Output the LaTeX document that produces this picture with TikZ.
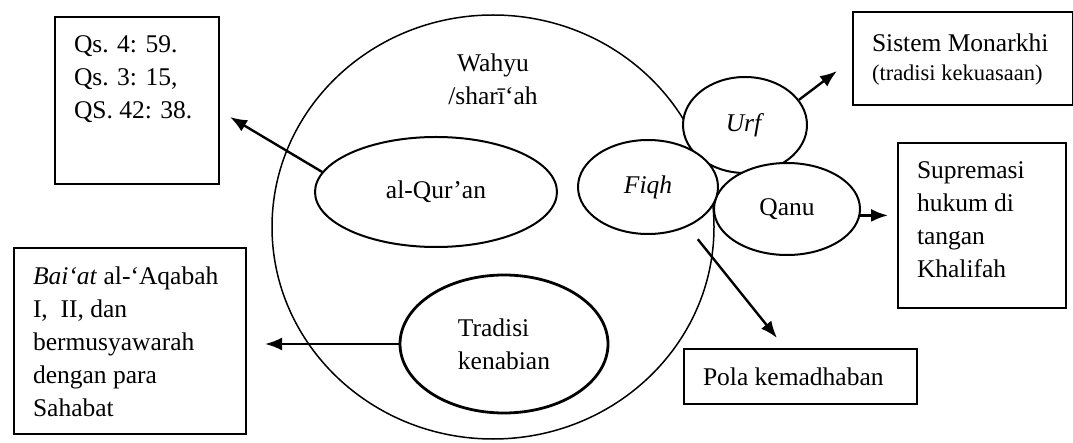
\documentclass[tikz,border=0pt]{standalone}
\usepackage{fontspec}
\setmainfont{Liberation Serif}
\usetikzlibrary{shapes.geometric,arrows.meta}

\newcommand{\bxtext}[3]{\parbox[c][#2][t]{#1}{\raggedright #3}}

\tikzset{
  txt/.style={font=\fontsize{25.5}{33}\selectfont},
  oval/.style={ellipse, draw, line width=2pt, inner sep=0pt, txt},
  refbox/.style={draw, line width=2pt, inner sep=19pt, anchor=north west, txt},
  arr/.style={line width=2.4pt, -{Latex[length=17pt,width=13pt]}},
}

\begin{document}
\begin{tikzpicture}[x=1pt,y=-1pt]
    \useasboundingbox (0,0) rectangle (1073,443);

    % wahyu circle
    \node[ellipse, draw, line width=1.5pt, minimum width=442pt, minimum height=424pt] (wahyu) at (493,227) {};
    \node[txt, align=center] (wahyutxt) at (493,79) {Wahyu\\/sharī‘ah};

    \node[oval, minimum width=242pt, minimum height=110pt] (quran) at (436,192) {al-Qur’an};
    \node[oval, line width=2.8pt, minimum width=208pt, minimum height=138pt, align=left] (tradisi) at (504,344) {Tradisi\\kenabian};

    \node[oval, fill=white, minimum width=124pt, minimum height=96pt] (urf) at (745,125) {\textit{Urf}};
    \node[oval, fill=white, minimum width=146pt, minimum height=92pt] (qanu) at (787,209) {Qanu};
    \node[oval, fill=white, minimum width=140pt, minimum height=94pt] (fiqh) at (648,187) {\textit{Fiqh}};

    % boxes
    \node[refbox] (qs) at (54,16) {\bxtext{126pt}{129pt}{Qs. 4: 59.\\Qs. 3: 15,\\QS. 42: 38.}};
    \node[refbox] (monarkhi) at (852,11) {\bxtext{182pt}{55pt}{\vspace*{3pt}Sistem Monarkhi\\{\fontsize{22.5}{29}\selectfont (tradisi kekuasaan)\par}}};
    \node[refbox] (supremasi) at (897,142) {\bxtext{130pt}{127pt}{Supremasi\\hukum di\\tangan\\Khalifah}};
    \node[refbox] (pola) at (683,348) {\bxtext{195pt}{17pt}{Pola kemadhaban}};
    \node[refbox] (baiat) at (13,247) {\bxtext{194pt}{148pt}{\textit{Bai‘at} al-‘Aqabah\\I,\ \ II, dan\\bermusyawarah\\dengan para\\Sahabat}};

    % arrows
    \coordinate (qsin) at (230,117);
    \coordinate (monin) at (837,71);
    \coordinate (polain) at (777,338);

    \draw[arr] (quran.170) -- (qsin);
    \draw[arr] (urf.25) -- (monin);
    \draw[arr, shorten >=9pt] (qanu.-5) -- (qanu.-5 -| supremasi.west);
    \draw[arr, shorten <=16pt] (fiqh.-45) -- (polain);
    \draw[arr, shorten >=18pt] (tradisi.west) -- (tradisi.west -| baiat.east);
\end{tikzpicture}
\end{document}
